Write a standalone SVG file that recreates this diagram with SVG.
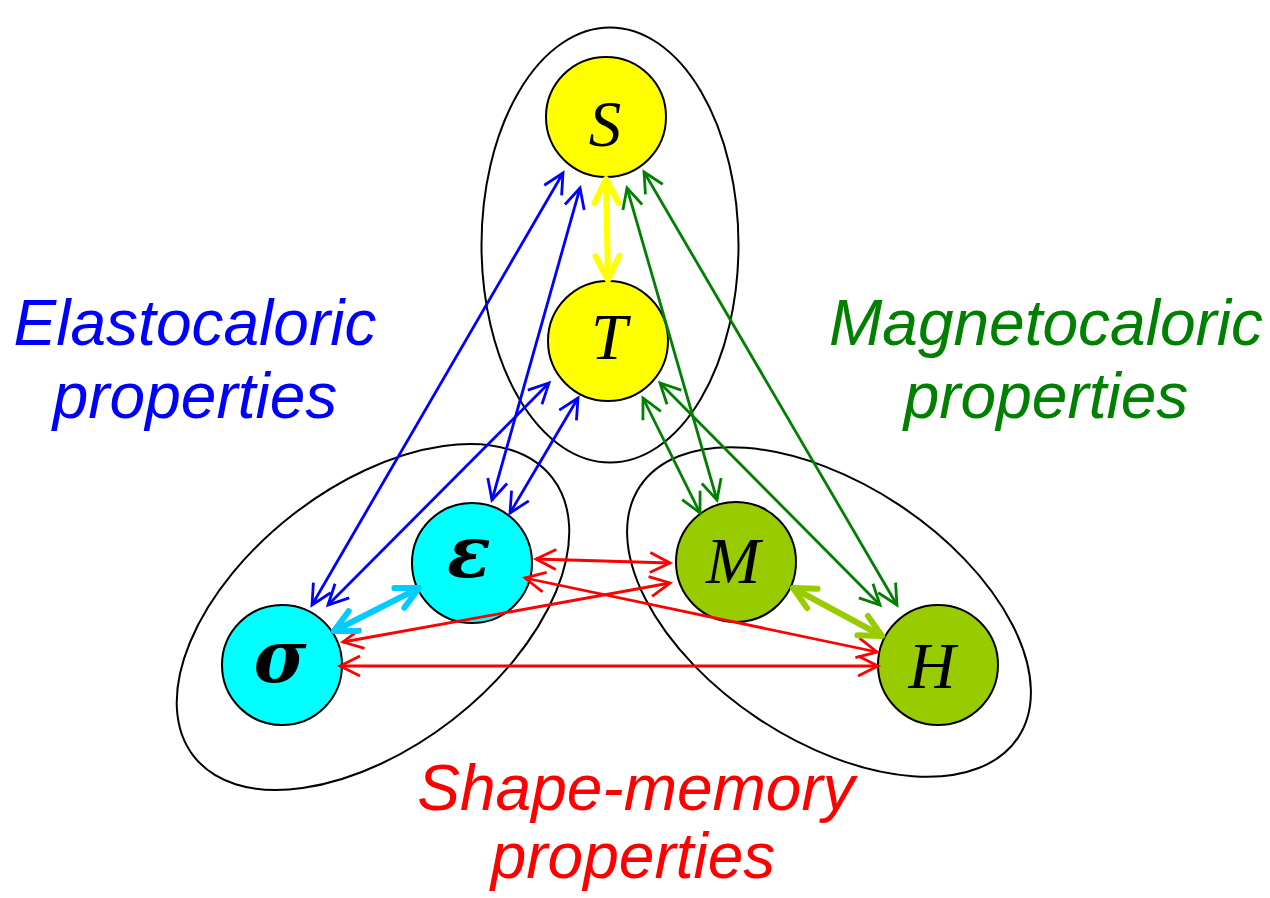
<svg xmlns="http://www.w3.org/2000/svg" width="1270" height="898" viewBox="0 0 1270 898">
<style>
.grp{fill:none;stroke:#000;stroke-width:2}
.node{stroke:#000;stroke-width:2}
.sym{font-family:"Liberation Serif","Times New Roman",serif;font-style:italic;font-size:65px;fill:#000;text-anchor:middle}
.greek{font-family:"DejaVu Serif","Liberation Serif",serif;font-style:italic;font-weight:bold;font-size:72px;fill:#000;text-anchor:middle}
.lbl{font-family:"Liberation Sans",Arial,sans-serif;font-style:italic;font-size:64px;text-anchor:middle}
.b{stroke:#0000ff;stroke-width:2.8;fill:none}
.g{stroke:#008000;stroke-width:2.8;fill:none}
.r{stroke:#ff0000;stroke-width:2.8;fill:none}
</style>
<defs>
<marker id="mb" markerUnits="userSpaceOnUse" viewBox="-26 -14 30 28" refX="0" refY="0" markerWidth="30" markerHeight="28" orient="auto-start-reverse"><path d="M-20,-10 L0,0 L-20,10" fill="none" stroke="#0000ff" stroke-width="2.8"/></marker>
<marker id="mg" markerUnits="userSpaceOnUse" viewBox="-26 -14 30 28" refX="0" refY="0" markerWidth="30" markerHeight="28" orient="auto-start-reverse"><path d="M-20,-10 L0,0 L-20,10" fill="none" stroke="#008000" stroke-width="2.8"/></marker>
<marker id="mr" markerUnits="userSpaceOnUse" viewBox="-26 -14 30 28" refX="0" refY="0" markerWidth="30" markerHeight="28" orient="auto-start-reverse"><path d="M-20,-10 L0,0 L-20,10" fill="none" stroke="#ff0000" stroke-width="2.8"/></marker>
<marker id="my" markerUnits="userSpaceOnUse" viewBox="-30 -18 34 36" refX="0" refY="0" markerWidth="34" markerHeight="36" orient="auto-start-reverse"><path d="M-24,-12 L0,0 L-24,12" fill="none" stroke="#ffff00" stroke-width="6" stroke-linecap="round" stroke-linejoin="round"/></marker>
<marker id="mc" markerUnits="userSpaceOnUse" viewBox="-30 -18 34 36" refX="0" refY="0" markerWidth="34" markerHeight="36" orient="auto-start-reverse"><path d="M-22,-11 L0,0 L-22,11" fill="none" stroke="#00ccff" stroke-width="6" stroke-linecap="round" stroke-linejoin="round"/></marker>
<marker id="ml" markerUnits="userSpaceOnUse" viewBox="-30 -18 34 36" refX="0" refY="0" markerWidth="34" markerHeight="36" orient="auto-start-reverse"><path d="M-22,-11 L0,0 L-22,11" fill="none" stroke="#99cc00" stroke-width="6" stroke-linecap="round" stroke-linejoin="round"/></marker>
</defs>
<rect width="1270" height="898" fill="#fff"/>
<g id="groups">
<ellipse class="grp" cx="610" cy="245" rx="128.5" ry="217.5"/>
<ellipse class="grp" cx="373" cy="617" rx="227" ry="130" transform="rotate(-37.8 373 617)"/>
<ellipse class="grp" cx="829" cy="612" rx="227" ry="128" transform="rotate(33.6 829 612)"/>
</g>
<g id="node-S"><circle class="node" cx="606" cy="117" r="60" fill="#ffff00"/><text class="sym" x="605" y="146">S</text></g>
<g id="node-T"><circle class="node" cx="608" cy="341" r="60" fill="#ffff00"/><text class="sym" x="609" y="359">T</text></g>
<g id="node-eps"><circle class="node" cx="472" cy="563" r="60" fill="#00ffff"/><text class="greek" x="469" y="577">ε</text></g>
<g id="node-sigma"><circle class="node" cx="282" cy="665" r="60" fill="#00ffff"/><text class="greek" x="280" y="682">σ</text></g>
<g id="node-M"><circle class="node" cx="736" cy="562" r="60" fill="#99cc00"/><text class="sym" x="733" y="583">M</text></g>
<g id="node-H"><circle class="node" cx="938" cy="665" r="60" fill="#99cc00"/><text class="sym" x="932" y="688">H</text></g>
<g id="connectors">
<line class="b" x1="312" y1="605" x2="563" y2="173" marker-start="url(#mb)" marker-end="url(#mb)"/>
<line class="b" x1="328" y1="605" x2="549" y2="383" marker-start="url(#mb)" marker-end="url(#mb)"/>
<line class="b" x1="492" y1="500" x2="580" y2="188" marker-start="url(#mb)" marker-end="url(#mb)"/>
<line class="b" x1="510" y1="513" x2="578" y2="398" marker-start="url(#mb)" marker-end="url(#mb)"/>
<line class="g" x1="717" y1="500" x2="627" y2="188" marker-start="url(#mg)" marker-end="url(#mg)"/>
<line class="g" x1="897" y1="605" x2="644" y2="172" marker-start="url(#mg)" marker-end="url(#mg)"/>
<line class="g" x1="700" y1="513" x2="643" y2="398" marker-start="url(#mg)" marker-end="url(#mg)"/>
<line class="g" x1="880" y1="605" x2="660" y2="383" marker-start="url(#mg)" marker-end="url(#mg)"/>
<line class="r" x1="536" y1="559" x2="670" y2="563" marker-start="url(#mr)" marker-end="url(#mr)"/>
<line class="r" x1="343" y1="642" x2="670" y2="583" marker-start="url(#mr)" marker-end="url(#mr)"/>
<line class="r" x1="525" y1="578" x2="877" y2="652" marker-start="url(#mr)" marker-end="url(#mr)"/>
<line class="r" x1="340" y1="666" x2="878" y2="666" marker-start="url(#mr)" marker-end="url(#mr)"/>
<line x1="606" y1="179" x2="608" y2="280" stroke="#ffff00" stroke-width="6" marker-start="url(#my)" marker-end="url(#my)"/>
<line x1="334" y1="631" x2="419" y2="588" stroke="#00ccff" stroke-width="6" marker-start="url(#mc)" marker-end="url(#mc)"/>
<line x1="793" y1="588" x2="882" y2="636" stroke="#99cc00" stroke-width="6" marker-start="url(#ml)" marker-end="url(#ml)"/>
</g>
<g id="labels">
<text class="lbl" x="195" y="345" fill="#0000ff">Elastocaloric</text>
<text class="lbl" x="195" y="418" fill="#0000ff">properties</text>
<text class="lbl" x="1046" y="345" fill="#008000">Magnetocaloric</text>
<text class="lbl" x="1046" y="418" fill="#008000">properties</text>
<text class="lbl" x="636" y="810" fill="#ff0000">Shape-memory</text>
<text class="lbl" x="633" y="878" fill="#ff0000">properties</text>
</g>
</svg>
